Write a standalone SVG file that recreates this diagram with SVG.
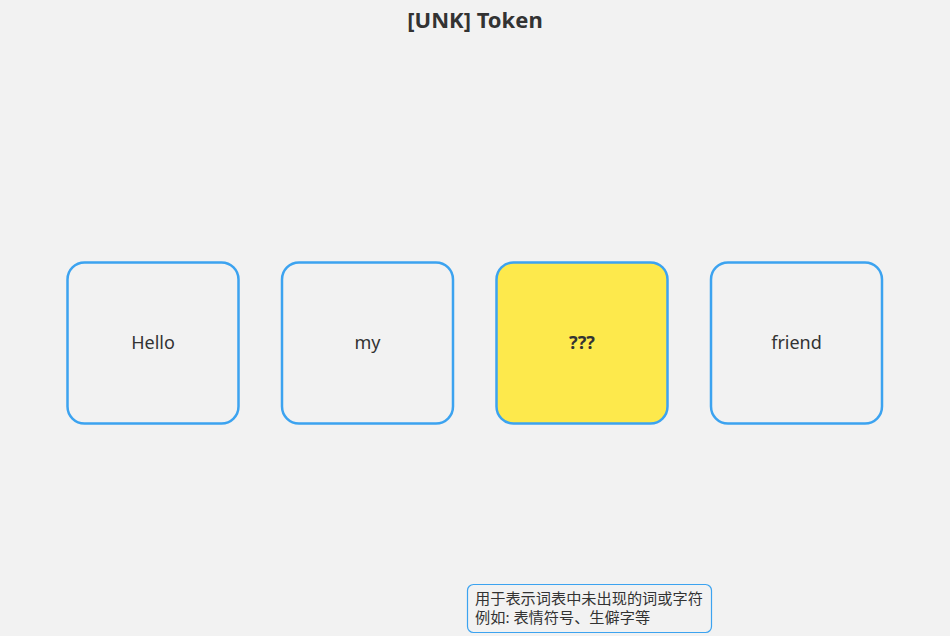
<svg xmlns="http://www.w3.org/2000/svg" width="950" height="636" viewBox="0 0 950 636">
<style>
.bg{fill:#f2f2f2}
.tok rect{fill:#f2f2f2;stroke:#3ca3f0;stroke-width:2.5}
.tok text{font-family:"Noto Sans","Noto Sans CJK SC",sans-serif;font-size:18px;fill:#333;text-anchor:middle;dominant-baseline:central}
.title{font-family:"Noto Sans","Noto Sans CJK SC",sans-serif;font-size:22px;font-weight:bold;fill:#333;text-anchor:middle}
.note rect{fill:#f2f2f2;stroke:#3ca3f0;stroke-width:1.2}
.note text{font-family:"Noto Sans","Noto Sans CJK SC",sans-serif;font-size:15px;fill:#333}
</style>
<rect class="bg" x="0" y="0" width="950" height="636"/>
<text class="title" x="475" y="28">[UNK] Token</text>
<g id="connectors"></g>
<g id="token-hello" class="tok"><rect x="67.5" y="262.5" width="171" height="161" rx="17"/><text x="153" y="342">Hello</text></g>
<g id="token-my" class="tok"><rect x="282" y="262.5" width="171" height="161" rx="17"/><text x="367.5" y="342">my</text></g>
<g id="token-unk" class="tok"><rect x="496.5" y="262.5" width="171" height="161" rx="17" style="fill:#fde94c"/><text x="582" y="342" style="font-weight:bold">???</text></g>
<g id="token-friend" class="tok"><rect x="711" y="262.5" width="171" height="161" rx="17"/><text x="796.5" y="342">friend</text></g>
<g id="note" class="note"><rect x="467.5" y="584.5" width="244" height="48" rx="6"/><text x="475" y="604" style="font-size:15.2px">用于表示词表中未出现的词或字符</text><text x="475" y="623" style="font-size:15.2px">例如: 表情符号、生僻字等</text></g>
</svg>
